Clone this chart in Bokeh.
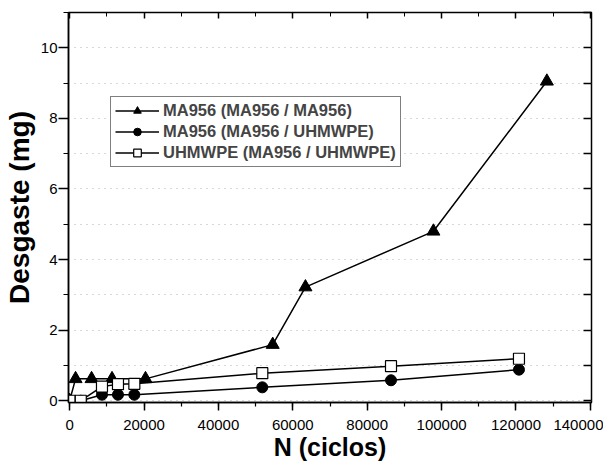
from bokeh.plotting import figure
from bokeh.models import (LinearAxis, Range1d, Legend, LegendItem, SingleIntervalTicker,
                          NumeralTickFormatter, CustomJSTickFormatter)
from bokeh.embed import file_html
from bokeh.resources import INLINE

# Data
tri_x = [0, 1600, 5900, 11400, 20400, 54600, 63400, 97800, 128300]
tri_y = [0, 0.62, 0.62, 0.62, 0.62, 1.59, 3.22, 4.80, 9.05]
cir_x = [0, 3000, 8700, 13000, 17400, 51800, 86400, 120800]
cir_y = [0, 0, 0.17, 0.17, 0.17, 0.38, 0.58, 0.88]
sq_x = [0, 3000, 8700, 13000, 17400, 51800, 86400, 120800]
sq_y = [0, 0, 0.40, 0.47, 0.48, 0.78, 0.98, 1.19]
labels = ["MA956 (MA956 / MA956)", "MA956 (MA956 / UHMWPE)", "UHMWPE (MA956 / UHMWPE)"]

FONT = "Liberation Sans"

p = figure(width=603, height=463, output_backend="svg", toolbar_location=None,
           x_range=Range1d(-300, 140300), y_range=Range1d(-0.05, 11.0),
           min_border_left=61, min_border_right=12, min_border_top=12, min_border_bottom=61)
p.outline_line_color = "black"
p.outline_line_width = 1.5
p.background_fill_color = "white"
p.border_fill_color = "white"

# grid
p.xgrid.grid_line_color = None
p.ygrid.ticker = SingleIntervalTicker(interval=1)
p.ygrid.grid_line_color = "#b0b0b0"
p.ygrid.grid_line_dash = "1 5"
p.ygrid.grid_line_width = 1

# axes
for ax in p.xaxis:
    ax.ticker = SingleIntervalTicker(interval=20000, num_minor_ticks=2)
    ax.formatter = NumeralTickFormatter(format="0")
    ax.axis_label = "N (ciclos)"
    ax.axis_label_text_font = FONT
    ax.axis_label_text_font_style = "bold"
    ax.axis_label_text_font_size = "25px"
    ax.axis_label_standoff = 0
    ax.major_label_standoff = 9
    ax.major_tick_in = 0
    ax.major_tick_out = 8
    ax.minor_tick_in = 0
    ax.minor_tick_out = 4
for ax in p.yaxis:
    ax.ticker = SingleIntervalTicker(interval=2, num_minor_ticks=2)
    ax.axis_label = "Desgaste (mg)"
    ax.axis_label_text_font = FONT
    ax.axis_label_text_font_style = "bold"
    ax.axis_label_text_font_size = "28px"
    ax.axis_label_standoff = 3
    ax.major_label_standoff = 1
    ax.major_tick_in = 0
    ax.major_tick_out = 10
    ax.minor_tick_in = 0
    ax.minor_tick_out = 5
for ax in list(p.xaxis) + list(p.yaxis):
    ax.axis_line_width = 1.5
    ax.major_tick_line_width = 1.5
    ax.minor_tick_line_width = 1.2
    ax.major_label_text_font = FONT
    ax.major_label_text_font_size = "15px"
    ax.major_label_text_color = "black"
    ax.axis_label_text_color = "black"

blank = CustomJSTickFormatter(code="return ''")
top = LinearAxis(ticker=SingleIntervalTicker(interval=20000, num_minor_ticks=2),
                 formatter=blank, major_label_standoff=0, major_tick_in=6, major_tick_out=0,
                 minor_tick_in=4, minor_tick_out=0, axis_line_color=None)
right = LinearAxis(ticker=SingleIntervalTicker(interval=1, num_minor_ticks=0),
                   formatter=blank, major_label_standoff=0, major_tick_in=8, major_tick_out=0,
                   minor_tick_in=0, minor_tick_out=0, axis_line_color=None)
top.major_tick_line_width = 1.5
right.major_tick_line_width = 1.5
p.add_layout(top, "above")
p.add_layout(right, "right")

# series
l1 = p.line(tri_x, tri_y, line_color="black", line_width=1.5)
m1 = p.scatter(tri_x, tri_y, marker="triangle", size=13, fill_color="black", line_color="black")
l2 = p.line(cir_x, cir_y, line_color="black", line_width=1.5)
m2 = p.scatter(cir_x, cir_y, marker="circle", size=11, fill_color="black", line_color="black")
l3 = p.line(sq_x, sq_y, line_color="black", line_width=1.5)
m3 = p.scatter(sq_x, sq_y, marker="square", size=11, fill_color="white", line_color="black", line_width=1.2)

legend = Legend(items=[LegendItem(label=labels[0], renderers=[l1, m1]),
                       LegendItem(label=labels[1], renderers=[l2, m2]),
                       LegendItem(label=labels[2], renderers=[l3, m3])],
                location=(42, 235))
legend.label_text_font = FONT
legend.label_text_font_style = "bold"
legend.label_text_font_size = "16.5px"
legend.border_line_color = "black"
legend.border_line_width = 1.2
legend.glyph_width = 44
legend.glyph_height = 19
legend.spacing = 2
legend.padding = 4
legend.margin = 0
legend.label_standoff = 4
legend.label_height = 19
legend.background_fill_alpha = 1
p.add_layout(legend, "center")

open("out.html", "w").write(file_html(p, INLINE))
